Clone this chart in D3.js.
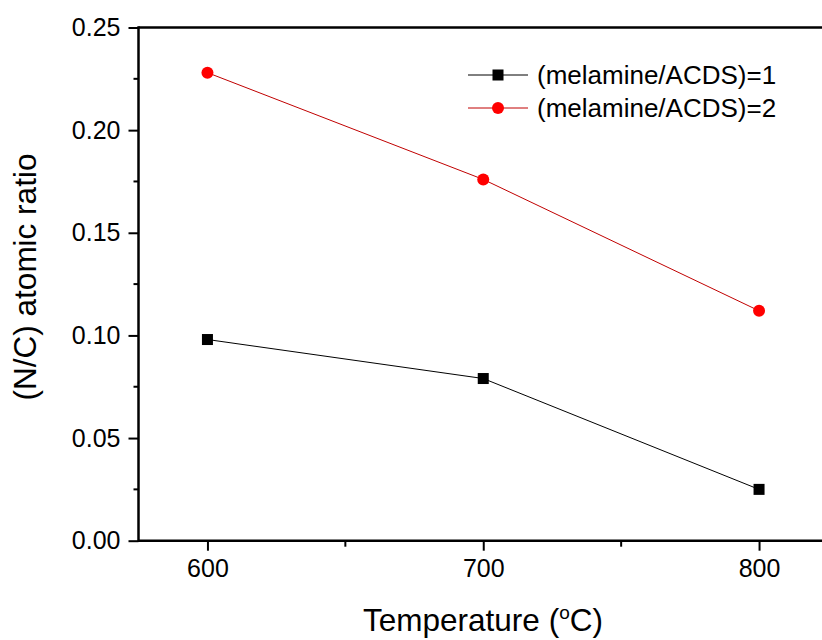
<!DOCTYPE html>
<html><head><meta charset="utf-8">
<script src="https://cdn.jsdelivr.net/npm/d3@7"></script>
<style>body{margin:0;background:#fff}svg{display:block;font-family:"Liberation Sans",Arial,sans-serif}</style>
</head><body><svg id="c" width="822" height="640"></svg>
<script>
const temps = [600, 700, 800];
const ratio1 = [0.098, 0.079, 0.025];
const ratio2 = [0.228, 0.176, 0.112];
const seriesNames = ["(melamine/ACDS)=1", "(melamine/ACDS)=2"];
const yTicks = [0.00, 0.05, 0.10, 0.15, 0.20, 0.25];
const xTicks = [600, 700, 800];

const svg = d3.select("#c");
const x = d3.scaleLinear().domain([575, 825]).range([138.5, 828]);
const y = d3.scaleLinear().domain([0, 0.25]).range([540.7, 27.5]);

// axes
const yAxis = d3.axisLeft(y).tickValues(yTicks).tickFormat(d3.format(".2f")).tickSize(10).tickPadding(8);
const gy = svg.append("g").attr("transform", `translate(${x.range()[0]},0)`).call(yAxis);
const xAxis = d3.axisBottom(x).tickValues(xTicks).tickFormat(d3.format("d")).tickSize(10).tickPadding(9);
const gx = svg.append("g").attr("transform", `translate(0,${y.range()[0]})`).call(xAxis);
[gx, gy].forEach(g => {
  g.select(".domain").remove();
  g.selectAll(".tick line").attr("stroke", "#000").attr("stroke-width", 2);
  g.selectAll(".tick text").attr("fill", "#000").attr("font-size", 25);
});
// minor ticks
const yMinor = [0.025, 0.075, 0.125, 0.175, 0.225];
svg.append("g").selectAll("line").data(yMinor).join("line")
  .attr("x1", x.range()[0] - 5).attr("x2", x.range()[0])
  .attr("y1", d => y(d)).attr("y2", d => y(d)).attr("stroke", "#000").attr("stroke-width", 2);
const xMinor = [650, 750];
svg.append("g").selectAll("line").data(xMinor).join("line")
  .attr("y1", y.range()[0]).attr("y2", y.range()[0] + 6)
  .attr("x1", d => x(d)).attr("x2", d => x(d)).attr("stroke", "#000").attr("stroke-width", 2);
// frame
svg.append("line").attr("x1", x.range()[0]).attr("x2", 822).attr("y1", y.range()[0]).attr("y2", y.range()[0]).attr("stroke", "#000").attr("stroke-width", 2.5);
svg.append("line").attr("x1", x.range()[0]).attr("x2", 822).attr("y1", y.range()[1]).attr("y2", y.range()[1]).attr("stroke", "#000").attr("stroke-width", 2.5);
svg.append("line").attr("x1", x.range()[0]).attr("x2", x.range()[0]).attr("y1", y.range()[1] - 1.2).attr("y2", y.range()[0] + 1.2).attr("stroke", "#000").attr("stroke-width", 2.5);

const line = d3.line().x(d => x(d[0])).y(d => y(d[1]));
const d1 = temps.map((t, i) => [t, ratio1[i]]);
const d2 = temps.map((t, i) => [t, ratio2[i]]);
svg.append("path").datum(d1).attr("d", line).attr("fill", "none").attr("stroke", "#000").attr("stroke-width", 1);
svg.append("path").datum(d2).attr("d", line).attr("fill", "none").attr("stroke", "#c00000").attr("stroke-width", 1);
svg.append("g").selectAll("rect").data(d1).join("rect")
  .attr("x", d => x(d[0]) - 5.5).attr("y", d => y(d[1]) - 5.5).attr("width", 11).attr("height", 11).attr("fill", "#000");
svg.append("g").selectAll("circle").data(d2).join("circle")
  .attr("cx", d => x(d[0])).attr("cy", d => y(d[1])).attr("r", 6).attr("fill", "#ff0000");

// legend
const lg = svg.append("g");
const rows = [{name: seriesNames[0], color: "#000", line: "#000", shape: "sq", yy: 75},
              {name: seriesNames[1], color: "#ff0000", line: "#c00000", shape: "ci", yy: 108}];
rows.forEach(r => {
  lg.append("line").attr("x1", 468).attr("x2", 528).attr("y1", r.yy).attr("y2", r.yy).attr("stroke", r.line).attr("stroke-width", 1);
  if (r.shape === "sq") lg.append("rect").attr("x", 498 - 5.5).attr("y", r.yy - 5.5).attr("width", 11).attr("height", 11).attr("fill", r.color);
  else lg.append("circle").attr("cx", 498).attr("cy", r.yy).attr("r", 6).attr("fill", r.color);
  lg.append("text").attr("x", 537).attr("y", r.yy).attr("dy", "0.35em").attr("font-size", 26).attr("fill", "#000").text(r.name);
});

// titles
svg.append("text").attr("x", 483).attr("y", 631).attr("text-anchor", "middle").attr("font-size", 31.5).attr("fill", "#000")
  .html('Temperature (<tspan dy="-12" font-size="19">o</tspan><tspan dy="12">C)</tspan>');
svg.append("text").attr("transform", "translate(36,277) rotate(-90)").attr("text-anchor", "middle").attr("font-size", 31.5).attr("fill", "#000")
  .text("(N/C) atomic ratio");
</script></body></html>
